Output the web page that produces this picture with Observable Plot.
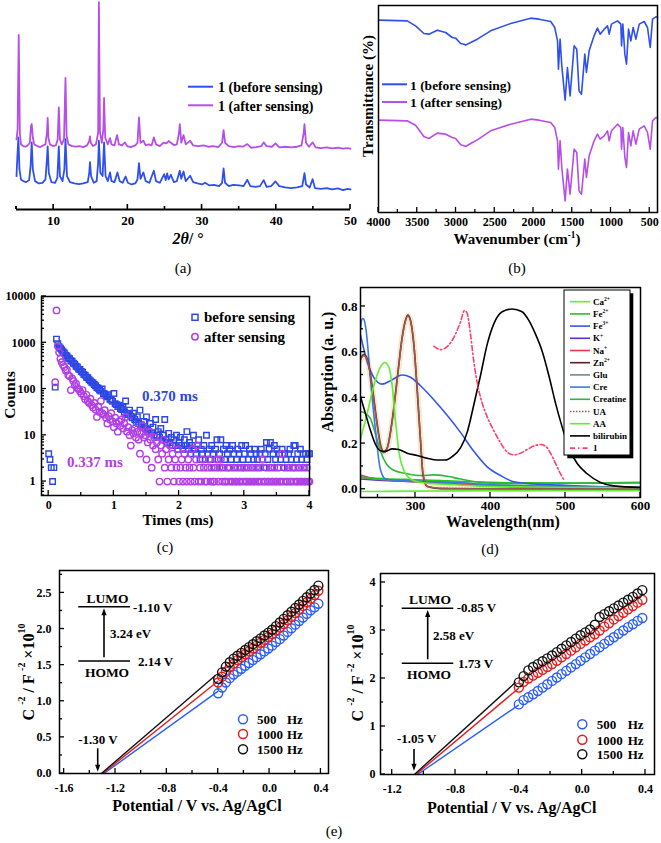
<!DOCTYPE html>
<html><head><meta charset="utf-8">
<script src="https://cdn.jsdelivr.net/npm/d3@7"></script>
<script src="https://cdn.jsdelivr.net/npm/@observablehq/plot@0.6"></script>
<style>
html,body{margin:0;padding:0;background:#fff;}
#root{position:relative;width:661px;height:843px;overflow:hidden;background:#fff;}
.panel{position:absolute;}
#overlay{position:absolute;left:0;top:0;pointer-events:none;}
</style></head><body><div id="root"></div><script>
// ================= DATA =================
// (a) PXRD, [2theta, intensity a.u.]
const aTicks = [10, 20, 30, 40, 50];
const aMinor = [5, 15, 25, 35, 45];
const aBefore = [[5.00,100],[5.1,150],[5.25,216],[5.4,120],[5.6,90],[5.9,85],[6.3,82],[6.7,88],[6.9,130],[7.05,201],[7.2,120],[7.5,85],[8.0,78],[8.5,80],[8.9,90],[9.1,150],[9.2,189],[9.35,110],[9.7,82],[10.2,80],[10.5,95],[10.7,189],[10.85,100],[11.2,85],[11.45,120],[11.6,211],[11.8,100],[12.2,82],[12.8,78],[13.4,76],[14.0,78],[14.6,82],[14.8,110],[14.9,142],[15.05,100],[15.4,80],[15.8,85],[16.0,140],[16.1,206],[16.3,110],[16.6,100],[16.8,201],[17.0,100],[17.3,85],[17.6,111],[17.8,85],[18.2,82],[18.6,111],[18.9,85],[19.3,80],[19.7,99],[20.0,80],[20.5,75],[21.0,78],[21.3,90],[21.5,139],[21.7,92],[22.1,111],[22.4,85],[22.9,80],[23.5,116],[23.8,85],[24.3,80],[24.9,106],[25.1,88],[25.3,108],[25.5,90],[25.8,104],[26.2,82],[26.6,85],[27.0,116],[27.2,92],[27.5,114],[27.8,85],[28.4,101],[28.8,82],[29.4,78],[30.0,75],[30.4,80],[31.0,72],[31.6,74],[32.3,70],[32.7,80],[32.9,123],[33.1,80],[33.6,70],[34.2,74],[35.0,72],[35.6,70],[36.1,89],[36.5,70],[37.2,68],[37.8,70],[38.3,88],[38.7,68],[39.3,70],[39.9,84],[40.4,70],[41.2,66],[42.0,64],[42.8,66],[43.5,70],[43.8,109],[44.0,75],[44.5,66],[44.9,91],[45.2,64],[46.0,62],[46.8,64],[47.5,60],[48.3,63],[49.0,58],[49.6,62],[50.0,60]];
const aAfter = [[5.00,210],[5.15,240],[5.30,523],[5.45,230],[5.6,195],[5.9,190],[6.2,188],[6.5,192],[6.8,200],[6.95,250],[7.05,256],[7.2,215],[7.4,195],[7.8,190],[8.2,187],[8.6,192],[8.9,195],[9.1,230],[9.2,274],[9.3,215],[9.5,195],[9.9,190],[10.3,192],[10.55,210],[10.7,306],[10.85,210],[11.1,195],[11.4,210],[11.6,394],[11.75,220],[12.0,195],[12.5,190],[13.0,188],[13.5,190],[14.0,187],[14.5,192],[14.8,205],[14.9,219],[15.0,200],[15.3,190],[15.7,195],[16.0,230],[16.1,621],[16.25,230],[16.5,200],[16.7,240],[16.8,334],[16.95,215],[17.3,195],[17.6,214],[17.8,195],[18.2,192],[18.55,223],[18.8,195],[19.2,192],[19.6,201],[19.9,190],[20.4,187],[21.0,192],[21.3,200],[21.5,276],[21.7,200],[22.1,206],[22.4,192],[22.8,195],[23.2,192],[23.5,216],[23.8,195],[24.3,190],[24.8,200],[25.2,198],[25.5,205],[25.8,200],[26.2,193],[26.6,195],[26.9,230],[27.0,256],[27.2,200],[27.5,223],[27.8,195],[28.4,206],[28.8,192],[29.5,190],[30.2,192],[30.8,188],[31.5,190],[32.2,187],[32.7,200],[32.9,238],[33.1,200],[33.6,190],[34.3,187],[35.0,190],[35.5,188],[36.1,196],[36.6,185],[37.3,187],[38.0,190],[38.3,201],[38.7,190],[39.4,188],[39.9,198],[40.4,186],[41.2,188],[42.0,186],[42.8,188],[43.4,192],[43.7,230],[43.8,256],[44.0,200],[44.4,188],[44.9,201],[45.3,186],[46.0,184],[46.8,186],[47.5,183],[48.3,185],[49.0,182],[49.5,184],[50.0,182]];

// (b) FTIR, [wavenumber, transmittance a.u.]
const bTicks = [4000, 3500, 3000, 2500, 2000, 1500, 1000, 500];
const bMinor = [3750, 3250, 2750, 2250, 1750, 1250, 750];
const bBefore = [[3996,577],[3630,575],[3522,560],[3414,537],[3350,535],[3242,547],[3134,540],[3048,525],[3005,523],[2940,507],[2897,505],[2876,502],[2811,510],[2725,520],[2553,545],[2294,567],[2036,583],[1928,580],[1778,573],[1726,555],[1690,515],[1678,430],[1657,520],[1635,440],[1592,337],[1562,435],[1528,350],[1476,500],[1442,490],[1412,365],[1381,355],[1338,475],[1317,420],[1282,485],[1218,530],[1175,553],[1140,535],[1088,550],[1045,560],[1024,535],[994,565],[916,575],[873,565],[864,500],[847,565],[821,475],[800,445],[774,550],[744,515],[714,555],[679,520],[636,565],[572,573],[529,555],[494,495],[464,580],[421,587],[400,585]];
const bAfter = [[3996,277],[3630,275],[3522,262],[3414,228],[3350,222],[3242,238],[3134,235],[3048,225],[3005,222],[2940,203],[2897,200],[2876,198],[2811,207],[2725,218],[2553,245],[2294,265],[2036,280],[1928,277],[1778,270],[1726,255],[1690,215],[1678,130],[1657,215],[1635,135],[1592,35],[1562,130],[1528,55],[1476,190],[1442,180],[1412,65],[1381,55],[1338,160],[1317,105],[1282,170],[1218,215],[1175,235],[1140,220],[1088,230],[1045,245],[1024,215],[994,245],[916,265],[873,255],[864,190],[847,255],[821,165],[800,135],[774,240],[744,200],[714,245],[679,205],[636,250],[572,260],[529,240],[494,190],[464,275],[421,285],[400,283]];

// (c) luminescence decay, counts sampled every 0.02 ms from t = 0
const cStep = 0.02;
const cXTicks = [0, 1, 2, 3, 4];
const cXMinor = [0.5, 1.5, 2.5, 3.5];
const cYTicks = [1, 10, 100, 1000, 10000];
const cBefore = [4,3,2,1,2, 110,1200,950,820,760, 700,640,600,540,520, 470,450,410,400,360, 345,310,300,270,265, 240,230,205,200,180, 175,160,150,140,135, 125,118,108,104,95, 90,100,80,78,72, 68,75,60,58,54, 80,48,46,42,45, 38,36,40,32,55, 30,28,35,26,24, 30,22,20,25,18, 35,17,15,20,14, 25,13,12,18,11, 15,10,22,10,12, 9,14,8,10,22, 8,7,11,7,9, 6,8,6,10,5, 7,9,6,5,8, 6,12,5,7,4, 6,10,5,4,6, 8,3,5,4,6, 3,10,4,5,3, 6,4,2,5,8, 3,4,8,2,5, 3,6,4,2,5, 3,6,4,2,3, 5,4,2,6,3, 4,6,2,3,5, 4,2,3,5,4, 3,2,4,5,3, 2,4,7,3,5, 7,2,4,6,3, 5,2,4,3,5, 2,4,3,2,4, 5,3,2,6,6, 3,4,2,5,3, 4,2,4,3,4, 4];
const cAfter = [null,null,null,null,null, 140,5000,850,620,450, 380,330,300,250,260, 200,190,95,170,150, 120,130,105,100,90, 80,95,70,60,75, 55,50,62,45,40, 50,36,25,42,32, 55,30,28,35,24, 18,26,22,30,20, 15,24,18,12,20, 16,22,14,18,25, 12,15,10,6,13, 11,14,9,12,8, 4,11,16,9,10, 3,7,12,8,2, 6,9,5,7,3, 1,6,4,8,2, 5,1,3,6,2, 4,1,3,2,5, 1,2,3,1,4, 2,1,3,2,1, 5,2,1,3,6, 1,2,1,3,2, 1,1,2,3,1, 2,1,1,2,3, 1,2,3,1,2, 1,1,2,1,2, 1,1,2,1,1, 2,1,1,2,1, 2,1,1,2,1, 1,2,1,1,2, 1,1,2,1,3, 1,1,2,1,1, 2,1,1,2,1, 1,2,1,1,4, 1,2,1,1,2, 1,1,2,1,2, 1,1,2,1,1, 2,1,1,2,1, 1];
const cLifetimes = ["0.370 ms", "0.337 ms"];

// (d) UV-vis, [nm, absorption]
const dXTicks = [300, 400, 500, 600];
const dXMinor = [250, 350, 450, 550];
const dYTicks = [0, 0.2, 0.4, 0.6, 0.8];
const dYMinor = [0.1, 0.3, 0.5, 0.7];
const dCa = [[226.7,-0.010],[260,-0.009],[300,-0.008],[350,-0.007],[400,-0.006],[450,-0.006],[500,-0.005],[550,-0.005],[600,-0.005]];
const dFe2 = [[226.7,0.055],[240,0.05],[260,0.046],[300,0.042],[350,0.036],[400,0.03],[450,0.028],[500,0.027],[550,0.027],[600,0.028]];
const dFe3 = [[226.7,0.675],[235.6,0.558],[244.4,0.49],[255.6,0.46],[266.7,0.475],[282.2,0.50],[293.3,0.49],[306.7,0.453],[324.4,0.392],[342.2,0.324],[360,0.249],[377.8,0.166],[395.6,0.098],[413.3,0.06],[431,0.033],[457.8,0.023],[493,0.018],[537.8,0.012],[600,0.008]];
const dK = [[226.7,0.045],[250,0.04],[300,0.033],[350,0.026],[400,0.014],[450,0.009],[500,0.007],[600,0.006]];
const dNa = [[226.7,0.063],[240,0.05],[262,0.041],[307,0.033],[351,0.023],[396,0.015],[450,0.012],[500,0.011],[600,0.01]];
const dZn = [[226.7,0.573],[231,0.59],[235.6,0.573],[242.2,0.453],[248.9,0.287],[253.3,0.196],[257.8,0.163],[262.2,0.18],[268.9,0.30],[275.6,0.483],[282.2,0.664],[286.7,0.74],[289.8,0.762],[293.3,0.74],[297.8,0.634],[302.2,0.438],[306.7,0.211],[310.2,0.06],[315.6,0.012],[333.3,0.003],[400,0.002],[500,0.002],[600,0.002]];
const dGlu = [[226.7,0.05],[260,0.042],[300,0.037],[350,0.03],[400,0.02],[450,0.014],[500,0.012],[600,0.01]];
const dCre = [[226.7,0.70],[228.9,0.747],[231,0.745],[234,0.70],[240,0.483],[246.7,0.257],[253,0.09],[260,0.045],[270,0.04],[300,0.035],[350,0.03],[400,0.02],[450,0.015],[500,0.012],[600,0.01]];
const dCreatine = [[226.7,0.34],[233.3,0.332],[240,0.309],[246.7,0.241],[253.3,0.166],[262.2,0.106],[271.1,0.083],[288.9,0.068],[306.7,0.06],[324.4,0.063],[342.2,0.057],[360,0.045],[386.7,0.03],[422,0.024],[484,0.026],[600,0.03]];
const dUA = [[226.7,0.565],[231,0.585],[235.6,0.568],[242.2,0.445],[248.9,0.28],[253.3,0.19],[257.8,0.16],[262.2,0.178],[268.9,0.295],[275.6,0.478],[282.2,0.66],[286.7,0.738],[289.8,0.758],[293.3,0.738],[297.8,0.635],[302.2,0.445],[306.7,0.22],[310.2,0.065],[315.6,0.014],[333.3,0.004],[400,0.003],[500,0.002],[600,0.002]];
const dAA = [[226.7,0.22],[235.6,0.332],[244.4,0.453],[253.3,0.536],[259.1,0.555],[264.4,0.536],[268.9,0.453],[273.3,0.30],[277.8,0.166],[284.4,0.083],[293.3,0.045],[306.7,0.03],[351,0.02],[400,0.012],[450,0.01],[500,0.009],[600,0.008]];
const dBilirubin = [[226.7,0.405],[233.3,0.332],[240,0.257],[246.7,0.196],[253.3,0.169],[260,0.166],[268.9,0.177],[277.8,0.174],[288.9,0.158],[302.2,0.148],[315.6,0.136],[328.9,0.128],[340,0.128],[348.9,0.143],[360,0.181],[368.9,0.249],[377.8,0.37],[386.7,0.498],[395.6,0.634],[404.4,0.724],[415.6,0.777],[428.9,0.789],[442.2,0.777],[451.1,0.739],[460,0.679],[468.9,0.604],[477.8,0.498],[486.7,0.377],[495.6,0.272],[504.4,0.181],[515.6,0.113],[528.9,0.068],[546.7,0.03],[564.4,0.015],[600,0.008]];
const dOne = [[324.4,0.626],[328.9,0.616],[333.3,0.611],[340,0.619],[346.7,0.641],[353.3,0.679],[360,0.732],[365.3,0.782],[368.9,0.77],[373.3,0.679],[377.8,0.558],[383.1,0.453],[388.9,0.377],[395.6,0.317],[404.4,0.257],[413.3,0.204],[422.2,0.163],[431.1,0.151],[440,0.158],[448.9,0.174],[457.8,0.189],[466.7,0.196],[473.3,0.189],[480,0.158],[486.7,0.113],[493.3,0.068],[497.8,0.042]];

// (e) Mott-Schottky
const eV = [-0.40,-0.37,-0.34,-0.31,-0.28,-0.25,-0.22,-0.19,-0.16,-0.13,-0.10,-0.07,-0.04,-0.01,0.02,0.05,0.08,0.11,0.14,0.17,0.20,0.23,0.26,0.29,0.32,0.35,0.38];
const eFreqs = ["500", "1000", "1500"];
const eL500 = [1.11,1.19,1.26,1.32,1.37,1.41,1.45,1.49,1.53,1.57,1.61,1.65,1.69,1.73,1.77,1.82,1.86,1.91,1.96,2.01,2.06,2.11,2.16,2.21,2.26,2.30,2.35];
const eL1000 = [1.26,1.34,1.41,1.47,1.52,1.57,1.61,1.65,1.69,1.73,1.77,1.81,1.85,1.89,1.93,1.98,2.02,2.07,2.12,2.17,2.22,2.27,2.32,2.37,2.42,2.47,2.53];
const eL1500 = [1.31,1.40,1.48,1.54,1.59,1.63,1.67,1.71,1.75,1.79,1.83,1.87,1.91,1.95,1.99,2.04,2.09,2.14,2.19,2.24,2.29,2.34,2.39,2.44,2.49,2.54,2.60];
const eLFits = [[-1.29,0,-0.40,1.14],[-1.30,0,-0.40,1.28],[-1.31,0,-0.42,1.36]];
const eR500 = [1.46,1.55,1.61,1.67,1.74,1.81,1.88,1.95,2.02,2.09,2.16,2.23,2.30,2.37,2.44,2.51,2.58,2.65,2.72,2.79,2.86,2.93,3.00,3.07,3.13,3.20,3.26];
const eR1000 = [1.81,1.93,2.00,2.06,2.12,2.18,2.24,2.30,2.37,2.44,2.51,2.58,2.65,2.72,2.79,2.86,2.92,3.00,3.08,3.15,3.23,3.30,3.37,3.44,3.51,3.58,3.64];
const eR1500 = [1.92,2.05,2.17,2.24,2.30,2.36,2.42,2.48,2.55,2.62,2.69,2.76,2.83,2.90,2.96,3.02,3.12,3.28,3.34,3.40,3.46,3.52,3.58,3.64,3.70,3.77,3.84];
const eRFits = [[-1.04,0,-0.40,1.45],[-1.05,0,-0.40,1.80],[-1.06,0,-0.42,1.92]];
const eLXTicks = [-1.6,-1.2,-0.8,-0.4,0,0.4], eLXMinor = [-1.4,-1.0,-0.6,-0.2,0.2];
const eLYTicks = [0,0.5,1.0,1.5,2.0,2.5], eLYMinor = [0.25,0.75,1.25,1.75,2.25,2.75];
const eRXTicks = [-1.2,-0.8,-0.4,0,0.4], eRXMinor = [-1.0,-0.6,-0.2,0.2];
const eRYTicks = [0,1,2,3,4], eRYMinor = [0.5,1.5,2.5,3.5];
const eLLevels = {lumo: "-1.10 V", homo: "2.14 V", gap: "3.24 eV", fb: "-1.30 V"};
const eRLevels = {lumo: "-0.85 V", homo: "1.73 V", gap: "2.58 eV", fb: "-1.05 V"};

// ================= DRAWING =================
const FONT = "'Liberation Serif','Times New Roman',serif";
const BLUE = "#3050ee", PURPLE = "#b64ee9";
const C_BLUE = "#2c47e4", C_PURPLE = "#b13ee6";
const E_COL = ["#2a5cff", "#e81c1c", "#111111"];
const root = document.getElementById("root");
const fx = d => d[0], fy = d => d[1];
const fmt1 = d => d.toFixed(1);

function style(size) {
  return {fontFamily: FONT, fontWeight: "bold", fontSize: size + "px", color: "#000", background: "transparent"};
}
function place(chart, left, top, w, h) {
  const d = document.createElement("div");
  d.className = "panel";
  Object.assign(d.style, {left: left + "px", top: top + "px", width: w + "px", height: h + "px"});
  d.appendChild(chart); root.appendChild(d);
}
function innerTicks(chart, spec) {
  const sx = chart.scale("x"), sy = chart.scale("y");
  const [xl] = sx.range, [yb] = sy.range;
  const g = d3.select(chart).append("g").attr("stroke", "#000").attr("stroke-width", spec.sw || 1.3);
  const add = (vals, len, isX) => {
    for (const v of vals || []) {
      if (isX) { const p = sx.apply(v); g.append("line").attr("x1", p).attr("x2", p).attr("y1", yb).attr("y2", yb - len); }
      else { const p = sy.apply(v); g.append("line").attr("y1", p).attr("y2", p).attr("x1", xl).attr("x2", xl + len); }
    }
  };
  add(spec.x, spec.len || 5, true); add(spec.xMinor, 3, true);
  add(spec.y, spec.len || 5, false); add(spec.yMinor, 3, false);
}

// ---- (a)
const chartA = Plot.plot({
  width: 360, height: 230, marginLeft: 16, marginRight: 10, marginTop: 0, marginBottom: 21,
  style: style(13),
  x: {domain: [5, 50], ticks: aTicks, tickSize: 0, tickPadding: 6, label: null, tickFormat: d => String(d)},
  y: {domain: [0, 626], axis: null, label: null},
  marks: [
    Plot.line(aBefore, {x: fx, y: fy, stroke: BLUE, strokeWidth: 1.8}),
    Plot.line(aAfter, {x: fx, y: fy, stroke: PURPLE, strokeWidth: 1.8}),
    Plot.ruleY([0], {stroke: "#000", strokeWidth: 2})
  ]
});
innerTicks(chartA, {x: aTicks, xMinor: aMinor.concat([5]), sw: 1.6});
place(chartA, 0, 0, 360, 230);

// ---- (b)
const chartB = Plot.plot({
  width: 331, height: 232, marginLeft: 48, marginRight: 4, marginTop: 5, marginBottom: 20,
  style: style(12),
  x: {domain: [4000, 400], ticks: bTicks, tickSize: 0, tickPadding: 5, label: null, tickFormat: d => String(d)},
  y: {domain: [0, 621], axis: null, label: null},
  marks: [
    Plot.line(bBefore, {x: fx, y: fy, stroke: BLUE, strokeWidth: 1.6}),
    Plot.line(bAfter, {x: fx, y: fy, stroke: PURPLE, strokeWidth: 1.6}),
    Plot.frame({stroke: "#000", strokeWidth: 1.5})
  ]
});
innerTicks(chartB, {x: bTicks, xMinor: bMinor});
place(chartB, 330, 0, 331, 232);

// ---- (c)
const cRowsB = cBefore.map((n, i) => ({t: i * cStep, n})).filter(d => d.n != null);
const cRowsA = cAfter.map((n, i) => ({t: i * cStep, n})).filter(d => d.n != null);
const cMinorY = [];
for (const dec of [0.1, 1, 10, 100, 1000]) for (let k = 2; k <= 9; k++) { const v = k * dec; if (v >= 0.5 && v < 10000) cMinorY.push(v); }
const chartC = Plot.plot({
  width: 320, height: 240, marginLeft: 41, marginRight: 11, marginTop: 16, marginBottom: 25,
  style: style(12),
  x: {domain: [-0.11, 4], ticks: cXTicks, tickSize: 0, tickPadding: 5, label: null, tickFormat: d => String(d)},
  y: {type: "log", domain: [0.5, 10000], ticks: cYTicks, tickSize: 0, tickPadding: 6, label: null, tickFormat: d => String(d)},
  marks: [
    Plot.dot(cRowsB, {x: "t", y: "n", symbol: "square", r: 3.1, stroke: C_BLUE, strokeWidth: 1.4, fill: "none"}),
    Plot.dot(cRowsA, {x: "t", y: "n", symbol: "circle", r: 3.2, stroke: C_PURPLE, strokeWidth: 1.4, fill: "none"}),
    Plot.frame({stroke: "#000", strokeWidth: 1.5})
  ]
});
innerTicks(chartC, {x: cXTicks, xMinor: cXMinor, y: cYTicks, yMinor: cMinorY});
place(chartC, 0, 280, 320, 240);

// ---- (d)
const dSeries = [
  {name: "UAglow", data: dUA, color: "#f4ead0", w: 6},
  {name: "Ca", data: dCa, color: "#66ee33"},
  {name: "K", data: dK, color: "#5a2fd0"},
  {name: "Na", data: dNa, color: "#f5334d"},
  {name: "Glu", data: dGlu, color: "#6f8c8c"},
  {name: "Fe2", data: dFe2, color: "#22c322"},
  {name: "Creatine", data: dCreatine, color: "#2db83d"},
  {name: "Cre", data: dCre, color: "#3b7be0"},
  {name: "Fe3", data: dFe3, color: "#3357ee"},
  {name: "Zn", data: dZn, color: "#5b1f1f"},
  {name: "UA", data: dUA, color: "#9a5a5a", dash: "1.5,1.5"},
  {name: "AA", data: dAA, color: "#5ef02a"},
  {name: "bilirubin", data: dBilirubin, color: "#000000"},
  {name: "1", data: dOne, color: "#ff3f6a", dash: "5,2.5,1.5,2.5"}
];
const chartD = Plot.plot({
  width: 341, height: 240, marginLeft: 40, marginRight: 21, marginTop: 7, marginBottom: 23,
  style: style(13),
  x: {domain: [226.7, 600], ticks: dXTicks, tickSize: 0, tickPadding: 3, label: null, tickFormat: d => String(d)},
  y: {domain: [-0.036, 0.883], ticks: dYTicks, tickSize: 0, tickPadding: 3, label: null, tickFormat: fmt1},
  marks: [
    ...dSeries.map(s => Plot.line(s.data, {x: fx, y: fy, stroke: s.color, strokeWidth: s.w || 1.6, strokeDasharray: s.dash, curve: "monotone-x", clip: true})),
    Plot.frame({stroke: "#000", strokeWidth: 1.5})
  ]
});
innerTicks(chartD, {x: dXTicks, xMinor: dXMinor, y: dYTicks, yMinor: dYMinor});
place(chartD, 320, 280, 341, 240);

// ---- (e)
function eChart(series, fits, xDomain, yDomain, m, xt, xm, yt, ym, yFmt, padX, padY) {
  const marks = [];
  fits.forEach((f, i) => marks.push(Plot.link([f], {x1: d => d[0], y1: d => d[1], x2: d => d[2], y2: d => d[3], stroke: E_COL[i], strokeWidth: 1.4})));
  series.forEach((s, i) => marks.push(Plot.dot(s.map((c, j) => ({V: eV[j], c})), {x: "V", y: "c", r: 4.5, stroke: E_COL[i], strokeWidth: 1.4, fill: "none"})));
  marks.push(Plot.frame({stroke: "#000", strokeWidth: 1.5}));
  const ch = Plot.plot({
    width: m.w, height: 240, marginLeft: m.l, marginRight: m.r, marginTop: m.t, marginBottom: m.b,
    style: style(12),
    x: {domain: xDomain, ticks: xt, tickSize: 0, tickPadding: padX, label: null, tickFormat: fmt1},
    y: {domain: yDomain, ticks: yt, tickSize: 0, tickPadding: padY, label: null, tickFormat: yFmt},
    marks
  });
  innerTicks(ch, {x: xt, xMinor: xm, y: yt, yMinor: ym});
  return ch;
}
const chartEL = eChart([eL500, eL1000, eL1500], eLFits, [-1.636, 0.459], [0, 2.81], {w: 330, l: 59, r: 2, t: 10, b: 27}, eLXTicks, eLXMinor, eLYTicks, eLYMinor, fmt1, 10, 8);
place(chartEL, 0, 560, 330, 240);
const chartER = eChart([eR500, eR1000, eR1500], eRFits, [-1.274, 0.457], [0, 4.187], {w: 331, l: 50, r: 7, t: 13, b: 26}, eRXTicks, eRXMinor, eRYTicks, eRYMinor, d => String(d), 10, 5);
place(chartER, 330, 560, 331, 240);

// ================= OVERLAY (labels, legends, insets) =================
const ov = d3.select(root).append("svg").attr("id", "overlay").attr("width", 661).attr("height", 843)
  .attr("font-family", FONT).attr("font-weight", "bold");
function txt(x, y, parts, o = {}) {
  const size = o.size || 14;
  const t = ov.append("text").attr("x", x).attr("y", y).attr("font-size", size)
    .attr("text-anchor", o.anchor || "start").attr("dominant-baseline", "central")
    .attr("fill", o.fill || "#000").attr("font-weight", o.weight || "bold");
  if (o.rotate) t.attr("transform", `rotate(${o.rotate},${x},${y})`);
  if (typeof parts === "string") parts = [[parts]];
  let shift = 0;
  const rise = o.rise || 0.42;
  for (const [s, kind] of parts) {
    const sp = t.append("tspan").text(s);
    const target = kind === "sup" ? -rise * size : 0;
    if (target !== shift) { sp.attr("dy", target - shift); shift = target; }
    if (kind === "sup") sp.attr("font-size", size * 0.62);
    if (kind === "it") sp.attr("font-style", "italic");
  }
  return t;
}
function seg(x1, y1, x2, y2, stroke = "#000", w = 1.5, dash = null) {
  const l = ov.append("line").attr("x1", x1).attr("y1", y1).attr("x2", x2).attr("y2", y2).attr("stroke", stroke).attr("stroke-width", w);
  if (dash) l.attr("stroke-dasharray", dash);
}
function arrow(x, y1, y2) {
  const dir = y2 > y1 ? 1 : -1;
  seg(x, y1, x, y2 - dir * 4, "#000", 1.6);
  ov.append("polygon").attr("points", `${x},${y2} ${x - 2.6},${y2 - dir * 7} ${x + 2.6},${y2 - dir * 7}`).attr("fill", "#000");
}

// (a)
seg(188, 86.7, 213, 86.7, BLUE, 2); txt(218, 87, "1 (before sensing)", {size: 14});
seg(188, 105.3, 213, 105.3, PURPLE, 2); txt(218, 105.5, "1 (after sensing)", {size: 14});
txt(188, 238, [["2θ", "it"], ["/ °"]], {size: 16, anchor: "middle"});
txt(183, 268, "(a)", {size: 15, anchor: "middle", weight: "normal"});
// (b)
seg(382, 84.3, 407, 84.3, BLUE, 2); txt(410, 84.5, "1 (before sensing)", {size: 13.5});
seg(382, 102, 407, 102, PURPLE, 2); txt(410, 102.3, "1 (after sensing)", {size: 13.5});
txt(368, 96, "Transmittance (%)", {size: 15, anchor: "middle", rotate: -90});
txt(517, 239, [["Wavenumber (cm"], ["-1", "sup"], [")"]], {size: 15, anchor: "middle", rise: 0.3});
txt(517, 268, "(b)", {size: 15, anchor: "middle", weight: "normal"});
// (c)
ov.append("rect").attr("x", 192).attr("y", 314.3).attr("width", 6).attr("height", 6).attr("fill", "none").attr("stroke", C_BLUE).attr("stroke-width", 1.5);
txt(204, 317.3, "before sensing", {size: 15});
ov.append("circle").attr("cx", 195).attr("cy", 336.7).attr("r", 3.2).attr("fill", "none").attr("stroke", C_PURPLE).attr("stroke-width", 1.5);
txt(204, 336.7, "after sensing", {size: 15});
txt(142, 395.5, cLifetimes[0], {size: 15, fill: C_BLUE});
txt(67, 461.7, cLifetimes[1], {size: 15, fill: C_PURPLE});
txt(8.5, 395, "Counts", {size: 15.5, anchor: "middle", rotate: -90});
txt(178, 520, "Times (ms)", {size: 15, anchor: "middle"});
txt(165, 547, "(c)", {size: 15, anchor: "middle", weight: "normal"});
// (d)
txt(327, 372, "Absorption (a. u.)", {size: 16, anchor: "middle", rotate: -90});
txt(503, 521, "Wavelength(nm)", {size: 16, anchor: "middle"});
ov.append("rect").attr("x", 567.3).attr("y", 293.3).attr("width", 66).attr("height", 165).attr("fill", "#000");
ov.append("rect").attr("x", 564).attr("y", 290).attr("width", 66).attr("height", 165).attr("fill", "#fff").attr("stroke", "#000").attr("stroke-width", 1);
const dLegend = [
  {lab: [["Ca"], ["2+", "sup"]], s: "Ca"}, {lab: [["Fe"], ["2+", "sup"]], s: "Fe2"}, {lab: [["Fe"], ["3+", "sup"]], s: "Fe3"},
  {lab: [["K"], ["+", "sup"]], s: "K"}, {lab: [["Na"], ["+", "sup"]], s: "Na"}, {lab: [["Zn"], ["2+", "sup"]], s: "Zn"},
  {lab: "Glu", s: "Glu"}, {lab: "Cre", s: "Cre"}, {lab: "Creatine", s: "Creatine"}, {lab: "UA", s: "UA"},
  {lab: "AA", s: "AA"}, {lab: "bilirubin", s: "bilirubin"}, {lab: "1", s: "1"}
];
dLegend.forEach((e, i) => {
  const y = 301.7 + i * 12.2;
  const s = dSeries.find(q => q.name === e.s);
  seg(570, y, 590, y, s.color, 1.6, s.name === "1" ? "5,3,1.5,3" : s.dash);
  txt(593, y, e.lab, {size: 9, rise: 0.3});
});
txt(490, 549, "(d)", {size: 15, anchor: "middle", weight: "normal"});
// (e) left
const yLab = [["C "], ["-2", "sup"], [" /  F "], ["-2", "sup"], [" ×10"], ["10", "sup"]];
txt(28, 672, yLab, {size: 16, anchor: "middle", rotate: -90});
txt(197, 805, "Potential / V vs. Ag/AgCl", {size: 16, anchor: "middle"});
seg(78.3, 606.7, 130, 606.7); txt(107.5, 598, "LUMO", {size: 13.5, anchor: "middle"}); txt(133, 606.5, eLLevels.lumo, {size: 13});
seg(78.3, 661, 130, 661); txt(107, 672, "HOMO", {size: 13.5, anchor: "middle"}); txt(138, 661, eLLevels.homo, {size: 13});
arrow(104, 657.3, 608.3); txt(110, 633.3, eLLevels.gap, {size: 13});
txt(98, 739, eLLevels.fb, {size: 13, anchor: "middle"}); arrow(97.7, 748.3, 771.7);
eFreqs.forEach((f, i) => {
  const y = [719.3, 734, 749.3][i];
  ov.append("circle").attr("cx", 243).attr("cy", y).attr("r", 4.5).attr("fill", "none").attr("stroke", E_COL[i]).attr("stroke-width", 1.5);
  txt(257, y, f, {size: 13}); txt(287, y, "Hz", {size: 13});
});
txt(334, 831, "(e)", {size: 15, anchor: "middle", weight: "normal"});
// (e) right
txt(357, 673, yLab, {size: 16, anchor: "middle", rotate: -90});
txt(511.7, 807, "Potential / V vs. Ag/AgCl", {size: 16, anchor: "middle"});
seg(401.7, 608.3, 453.3, 608.3); txt(430, 599.3, "LUMO", {size: 13.5, anchor: "middle"}); txt(456.7, 606.5, eRLevels.lumo, {size: 13});
seg(401.7, 663.3, 453.3, 663.3); txt(429, 674.3, "HOMO", {size: 13.5, anchor: "middle"}); txt(458, 663.3, eRLevels.homo, {size: 13});
arrow(427.7, 659.3, 610); txt(433, 635, eRLevels.gap, {size: 13});
txt(416.7, 738.3, eRLevels.fb, {size: 13, anchor: "middle"}); arrow(414, 749, 770.7);
eFreqs.forEach((f, i) => {
  const y = [724.3, 739.7, 754.3][i];
  ov.append("circle").attr("cx", 582.3).attr("cy", y).attr("r", 4.5).attr("fill", "none").attr("stroke", E_COL[i]).attr("stroke-width", 1.5);
  txt(596.7, y, f, {size: 13}); txt(627.7, y, "Hz", {size: 13});
});
</script></body></html>
